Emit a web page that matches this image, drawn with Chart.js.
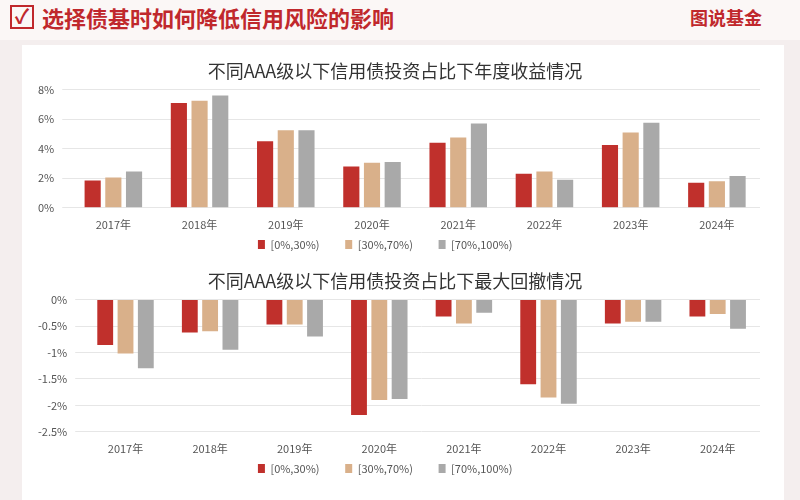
<!DOCTYPE html>
<html><head><meta charset="utf-8">
<script src="https://cdn.jsdelivr.net/npm/chart.js@4"></script>
<style>
body{margin:0;width:800px;height:500px;background:#f4eeee;font-family:"Noto Sans CJK SC",sans-serif;overflow:hidden;position:relative}
#hdr{position:absolute;left:0;top:0;width:800px;height:40px;background:#fbf7f6}
#ttl{position:absolute;left:42px;top:0;font-size:22px;font-weight:bold;color:#c0282c;line-height:34px}
#chk{position:absolute;left:10px;top:5px;width:20px;height:20px;border:2px solid #c0282c;color:#c0282c;font-size:20px;line-height:18px;text-align:center;font-weight:bold}
#logo{position:absolute;left:690px;top:4px;font-size:18px;font-weight:bold;color:#c0282c}
#card{position:absolute;left:22px;top:45px;width:762px;height:455px;background:#fff}
.c{position:absolute;left:30px;width:740px}
</style></head><body>
<div id="hdr"></div><div id="chk">✓</div>
<div id="ttl">选择债基时如何降低信用风险的影响</div>
<div id="logo">图说基金</div>
<div id="card"></div>
<div class="c" style="top:60px;height:200px"><canvas id="c1"></canvas></div>
<div class="c" style="top:270px;height:214px"><canvas id="c2"></canvas></div>
<script>
const years = ['2017年','2018年','2019年','2020年','2021年','2022年','2023年','2024年'];
const seriesNames = ['[0%,30%)','[30%,70%)','[70%,100%)'];
const colors = ['#c0302c','#d9b08a','#a9a9a9'];
const ret0 = [1.85, 7.1, 4.5, 2.8, 4.4, 2.3, 4.25, 1.7];
const ret1 = [2.05, 7.25, 5.25, 3.05, 4.75, 2.45, 5.1, 1.8];
const ret2 = [2.45, 7.6, 5.25, 3.1, 5.7, 1.9, 5.75, 2.15];
const dd0 = [-0.86, -0.62, -0.47, -2.18, -0.32, -1.6, -0.45, -0.32];
const dd1 = [-1.02, -0.6, -0.47, -1.9, -0.45, -1.85, -0.42, -0.27];
const dd2 = [-1.3, -0.95, -0.7, -1.88, -0.25, -1.97, -0.42, -0.55];

const font = {family: '"Noto Sans CJK SC", sans-serif'};
function makeChart(id, title, data, min, max, step) {
  return new Chart(document.getElementById(id), {
    type: 'bar',
    data: {
      labels: years,
      datasets: data.map((d, i) => ({label: seriesNames[i], data: d, backgroundColor: colors[i],
        categoryPercentage: 0.72, barPercentage: 0.78}))
    },
    options: {
      responsive: true, maintainAspectRatio: false, animation: false,
      layout: {padding: {right: 10}},
      plugins: {
        title: {display: true, text: title, color: '#333', font: {...font, size: 18, weight: 'normal'}, padding: {top: 0, bottom: 8}},
        legend: {position: 'bottom', labels: {boxWidth: 7, boxHeight: 9, color: '#555', font: {...font, size: 11}, padding: 6,
          generateLabels: chart => Chart.defaults.plugins.legend.labels.generateLabels(chart).map(l => ({...l, text: l.text + '        '}))}}
      },
      scales: {
        x: {grid: {display: false}, border: {display: false}, ticks: {color: '#555', font: {...font, size: 11}, padding: 2}},
        y: {min, max, ticks: {stepSize: step, color: '#555', font: {...font, size: 11}, callback: v => v + '%', padding: 8},
          grid: {color: '#e6e6e6'}, border: {display: false}}
      }
    }
  });
}
makeChart('c1', '不同AAA级以下信用债投资占比下年度收益情况', [ret0, ret1, ret2], 0, 8, 2);
makeChart('c2', '不同AAA级以下信用债投资占比下最大回撤情况', [dd0, dd1, dd2], -2.5, 0, 0.5);
</script>
</body></html>
